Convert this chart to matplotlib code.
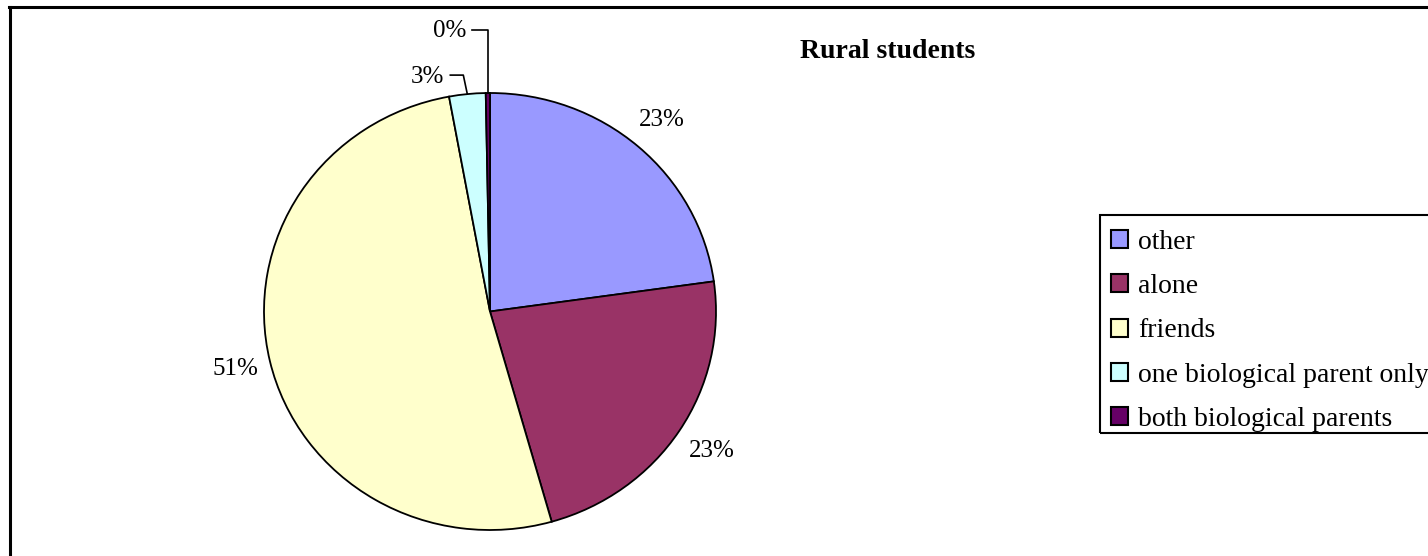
import matplotlib
matplotlib.use("Agg")
import matplotlib.pyplot as plt
import numpy as np
from matplotlib.patches import Patch, Rectangle
from matplotlib.lines import Line2D

categories = ["other", "alone", "friends", "one biological parent only", "both biological parents"]
values = [22.8, 22.8, 51.5, 2.6, 0.3]
pct_labels = ["23%", "23%", "51%", "3%", "0%"]
colors = ["#9999FF", "#993366", "#FFFFCC", "#CCFFFF", "#660066"]
title = "Rural students"

plt.rcParams['font.family'] = ['Liberation Serif', 'DejaVu Serif']

W, H = 1428, 556
fig = plt.figure(figsize=(W/100, H/100), dpi=100)

cx, cy, rx, ry = 490, 311.5, 226, 218.5
ax = fig.add_axes([(cx - rx)/W, (H - cy - ry)/H, 2*rx/W, 2*ry/H])
wedges, _ = ax.pie(values, colors=colors, startangle=90, counterclock=False,
                   radius=1, wedgeprops=dict(edgecolor='black', linewidth=1.3))
ax.set_xlim(-1, 1)
ax.set_ylim(-1, 1)
ax.set_aspect('auto')
ax.axis('off')

fs = 18
dists = [1.16, 1.17, 1.155]
for i, w in enumerate(wedges):
    ang = np.deg2rad((w.theta1 + w.theta2) / 2)
    if i < 3:
        d = dists[i]
        ax.text(d*np.cos(ang), d*np.sin(ang), pct_labels[i], ha='center', va='center',
                fontsize=fs, clip_on=False)

pxx, pxy = 1/rx, 1/ry
# 3% slice leader
w = wedges[3]
ang = np.deg2rad((w.theta1 + w.theta2) / 2)
x0, y0 = np.cos(ang), np.sin(ang)
ytop = y0 + 19*pxy
ax.add_line(Line2D([x0, x0 - 4*pxx, x0 - 17*pxx], [y0, ytop, ytop], color='black', lw=1.2, clip_on=False))
ax.text(x0 - 23*pxx, ytop - 2*pxy, pct_labels[3], ha='right', va='center', fontsize=fs, clip_on=False)
# 0% slice leader
w = wedges[4]
ang = np.deg2rad((w.theta1 + w.theta2) / 2)
x0, y0 = np.cos(ang), np.sin(ang)
ytop = y0 + 63*pxy
ax.add_line(Line2D([x0, x0, x0 - 16*pxx], [y0, ytop, ytop], color='black', lw=1.2, clip_on=False))
ax.text(x0 - 21*pxx, ytop - 1*pxy, pct_labels[4], ha='right', va='center', fontsize=fs, clip_on=False)

fig.text(800/W, 1 - 52/H, title, ha='left', va='center', fontsize=20, fontweight='bold')

lfs = 20
handles = [Patch(facecolor=c, edgecolor='black', linewidth=1.5) for c in colors]
leg = fig.legend(handles, categories, loc='upper left', bbox_to_anchor=(1100/W, 1 - 219/H),
                 borderaxespad=0, frameon=False, fontsize=lfs,
                 handlelength=0.62, handleheight=0.62, handletextpad=0.36,
                 labelspacing=0.69, borderpad=0.4)
# legend box
fig.add_artist(Rectangle((1100/W, 1 - 433/H), 340/W, 218/H, transform=fig.transFigure,
                         facecolor='none', edgecolor='black', lw=1.5))

# outer chart frame
fig.add_artist(Line2D([10/W, 10/W], [0, 1 - 7/H], transform=fig.transFigure, color='black', lw=2.2))
fig.add_artist(Line2D([9/W, 1], [1 - 7/H, 1 - 7/H], transform=fig.transFigure, color='black', lw=2.2))

fig.savefig("out.png", dpi=100)
